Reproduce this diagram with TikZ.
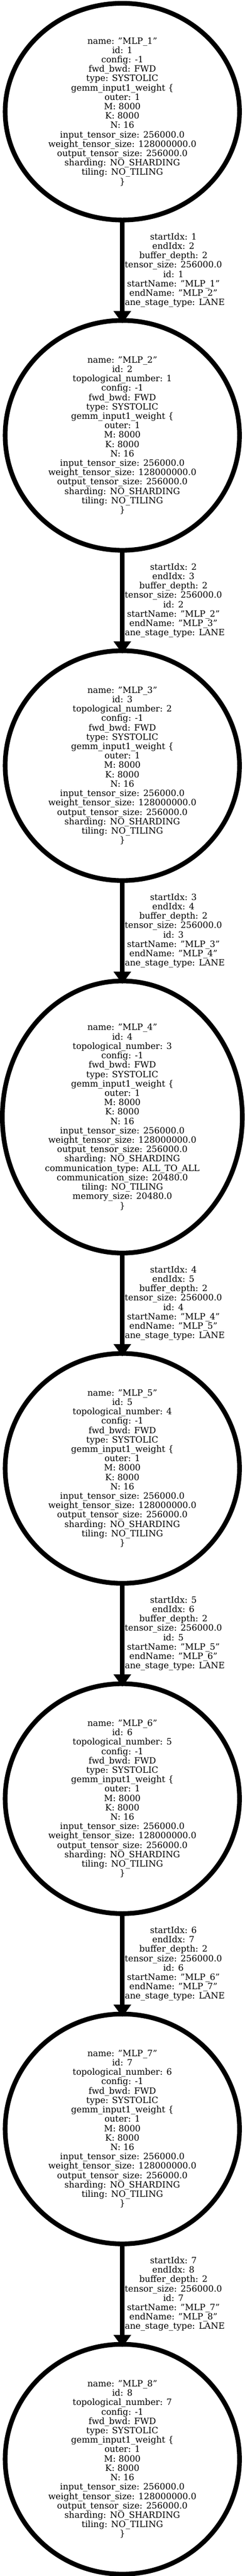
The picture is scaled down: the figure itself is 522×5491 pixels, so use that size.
\documentclass[tikz,border=0pt]{standalone}
\usepackage{fontspec}
\setmainfont{DejaVu Serif}
\usetikzlibrary{shapes.geometric,arrows.meta,positioning}

\newcommand{\opbody}{config: -1\\ fwd\_bwd: FWD\\ type: SYSTOLIC\\ gemm\_input1\_weight \{\\ outer: 1\\ M: 8000\\ K: 8000\\ N: 16\\ input\_tensor\_size: 256000.0\\ weight\_tensor\_size: 128000000.0\\ output\_tensor\_size: 256000.0\\ sharding: NO\_SHARDING}
\newcommand{\bufinfo}[2]{startIdx: #1\\ endIdx: #2\\ buffer\_depth: 2\\ tensor\_size: 256000.0\\ id: #1\\ startName: "MLP\_#1"\\ endName: "MLP\_#2"\\ lane\_stage\_type: LANE}

\begin{document}
\begin{tikzpicture}[x=1pt,y=1pt,
	op/.style={ellipse,draw,line width=10pt,inner sep=0pt,outer sep=0pt,minimum width=500pt,minimum height=490pt,align=center,font=\fontsize{18.5}{20}\selectfont},
	info/.style={midway,xshift=109pt,inner sep=0pt,align=center,font=\fontsize{18.5}{20}\selectfont},
	flow/.style={line width=10pt,-{Triangle[length=26pt,width=38pt,line width=0pt]},shorten >=-6pt},
	node distance=214pt]
	\useasboundingbox (0,0) rectangle (522,-5491);
	\node[op,minimum height=462pt](mlp1) at (261,-238){name: "MLP\_1"\\ id: 1\\ \opbody\\ tiling: NO\_TILING\\ \}};
	\node[op](mlp2)[below = of mlp1]{name: "MLP\_2"\\ id: 2\\ topological\_number: 1\\ \opbody\\ tiling: NO\_TILING\\ \}};
	\node[op](mlp3)[below = of mlp2]{name: "MLP\_3"\\ id: 3\\ topological\_number: 2\\ \opbody\\ tiling: NO\_TILING\\ \}};
	\node[op,minimum width=512pt,minimum height=580pt](mlp4)[below = of mlp3]{name: "MLP\_4"\\ id: 4\\ topological\_number: 3\\ \opbody\\ communication\_type: ALL\_TO\_ALL\\ communication\_size: 20480.0\\ tiling: NO\_TILING\\ memory\_size: 20480.0\\ \}};
	\node[op](mlp5)[below = of mlp4]{name: "MLP\_5"\\ id: 5\\ topological\_number: 4\\ \opbody\\ tiling: NO\_TILING\\ \}};
	\node[op](mlp6)[below = of mlp5]{name: "MLP\_6"\\ id: 6\\ topological\_number: 5\\ \opbody\\ tiling: NO\_TILING\\ \}};
	\node[op](mlp7)[below = of mlp6]{name: "MLP\_7"\\ id: 7\\ topological\_number: 6\\ \opbody\\ tiling: NO\_TILING\\ \}};
	\node[op](mlp8)[below = of mlp7]{name: "MLP\_8"\\ id: 8\\ topological\_number: 7\\ \opbody\\ tiling: NO\_TILING\\ \}};
	\path[flow](mlp1) edge node[info]{\bufinfo{1}{2}} (mlp2);
	\path[flow](mlp2) edge node[info]{\bufinfo{2}{3}} (mlp3);
	\path[flow](mlp3) edge node[info]{\bufinfo{3}{4}} (mlp4);
	\path[flow](mlp4) edge node[info]{\bufinfo{4}{5}} (mlp5);
	\path[flow](mlp5) edge node[info]{\bufinfo{5}{6}} (mlp6);
	\path[flow](mlp6) edge node[info]{\bufinfo{6}{7}} (mlp7);
	\path[flow](mlp7) edge node[info]{\bufinfo{7}{8}} (mlp8);
\end{tikzpicture}
\end{document}
